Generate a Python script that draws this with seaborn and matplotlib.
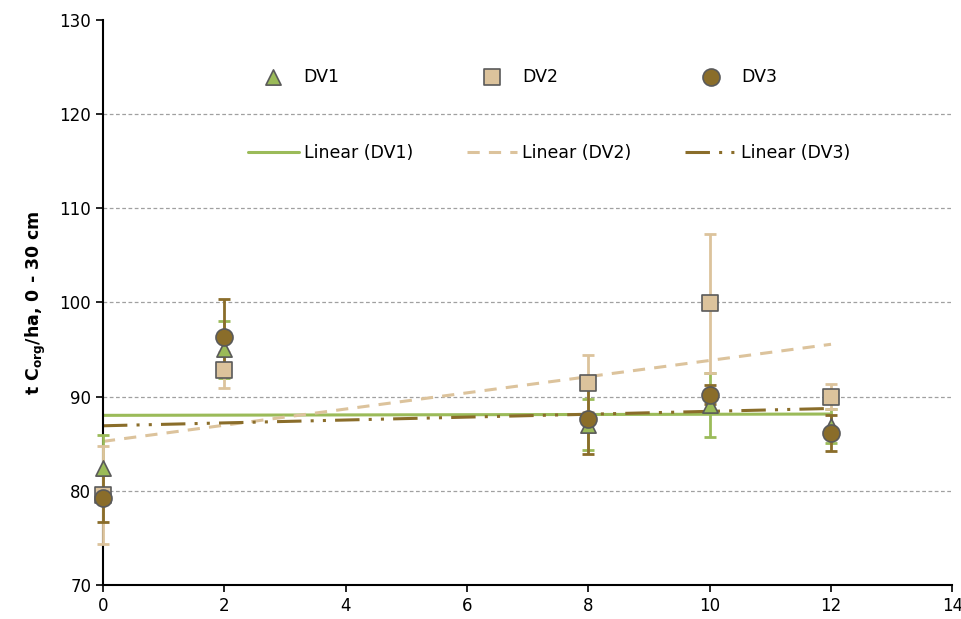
import numpy as np
import matplotlib
matplotlib.use("Agg")
import matplotlib.pyplot as plt
import seaborn as sns

# years since start
years = [0, 2, 8, 10, 12]

dv1 = [82.4, 95.0, 87.0, 89.1, 86.9]
dv2 = [79.6, 92.8, 91.4, 99.9, 90.0]
dv3 = [79.2, 96.3, 87.6, 90.2, 86.1]

err1 = [3.5, 3.0, 2.7, 3.4, 1.8]
err2 = [5.2, 1.9, 3.0, 7.4, 1.3]
err3 = [2.5, 4.1, 3.7, 1.0, 1.9]

names = ["DV1", "DV2", "DV3"]
colors = ["#9BBB59", "#DCC39C", "#8A6D2A"]
markers = ["^", "s", "o"]
sizes = [120, 130, 150]
styles = ["-", (0, (4, 3)), (0, (8, 3, 1, 3, 1, 3))]

sns.set_style("white")
plt.rcParams["font.family"] = ["DejaVu Sans"]

fig = plt.figure(figsize=(9.62, 6.19), dpi=100)
ax = fig.add_axes([0.107, 0.055, 0.883, 0.913])

series = [dv1, dv2, dv3]
errs = [err1, err2, err3]

# trend lines
for vals, name, c, ls in zip(series, names, colors, styles):
    sns.regplot(x=years, y=vals, ax=ax, scatter=False, ci=None, color=c,
                line_kws={"linestyle": ls, "linewidth": 2.2, "zorder": 2},
                label=f"Linear ({name})")

# error bars + markers
for vals, e, name, c, m, s in zip(series, errs, names, colors, markers, sizes):
    eb = ax.errorbar(years, vals, yerr=e, fmt="none", ecolor=c, elinewidth=2,
                     capsize=4, capthick=2, zorder=3)
    for art in eb.lines[1] + eb.lines[2]:
        art.set_clip_on(False)
    sns.scatterplot(x=years, y=vals, ax=ax, marker=m, s=s, color=c,
                    edgecolor="#5a5a5a", linewidth=1.2, zorder=4, label=name,
                    clip_on=False)

ax.set_xlim(0, 14)
ax.set_ylim(70, 130)
ax.set_xticks(range(0, 15, 2))
ax.set_yticks(range(70, 131, 10))
ax.yaxis.grid(True, linestyle=(0, (3, 2)), color="#a0a0a0", linewidth=0.9)
ax.yaxis.get_gridlines()[-1].set_visible(False)
ax.set_axisbelow(True)
for sp in ["top", "right"]:
    ax.spines[sp].set_visible(False)
for sp in ["left", "bottom"]:
    ax.spines[sp].set_color("black")
    ax.spines[sp].set_linewidth(1.5)
ax.tick_params(axis="both", direction="out", length=5, width=1.2,
               labelsize=12, colors="black", bottom=True, left=True)
ax.set_ylabel(r"t C$_{\mathbf{org}}$/ha, 0 - 30 cm", fontsize=12.5,
              fontweight="bold", labelpad=8, color="black")

h, l = ax.get_legend_handles_labels()
order = []
for name in names:
    order.append(l.index(name))
    order.append(l.index(f"Linear ({name})"))
leg = ax.legend([h[i] for i in order], [l[i] for i in order], ncol=3,
                loc="upper left", bbox_to_anchor=(0.171, 0.915), frameon=False,
                fontsize=12.5, handlelength=2.9, handletextpad=0.3,
                columnspacing=3.1, labelspacing=3.35, borderaxespad=0,
                borderpad=0)
for t in leg.get_texts():
    t.set_color("black")

fig.savefig("out.png", dpi=100)
